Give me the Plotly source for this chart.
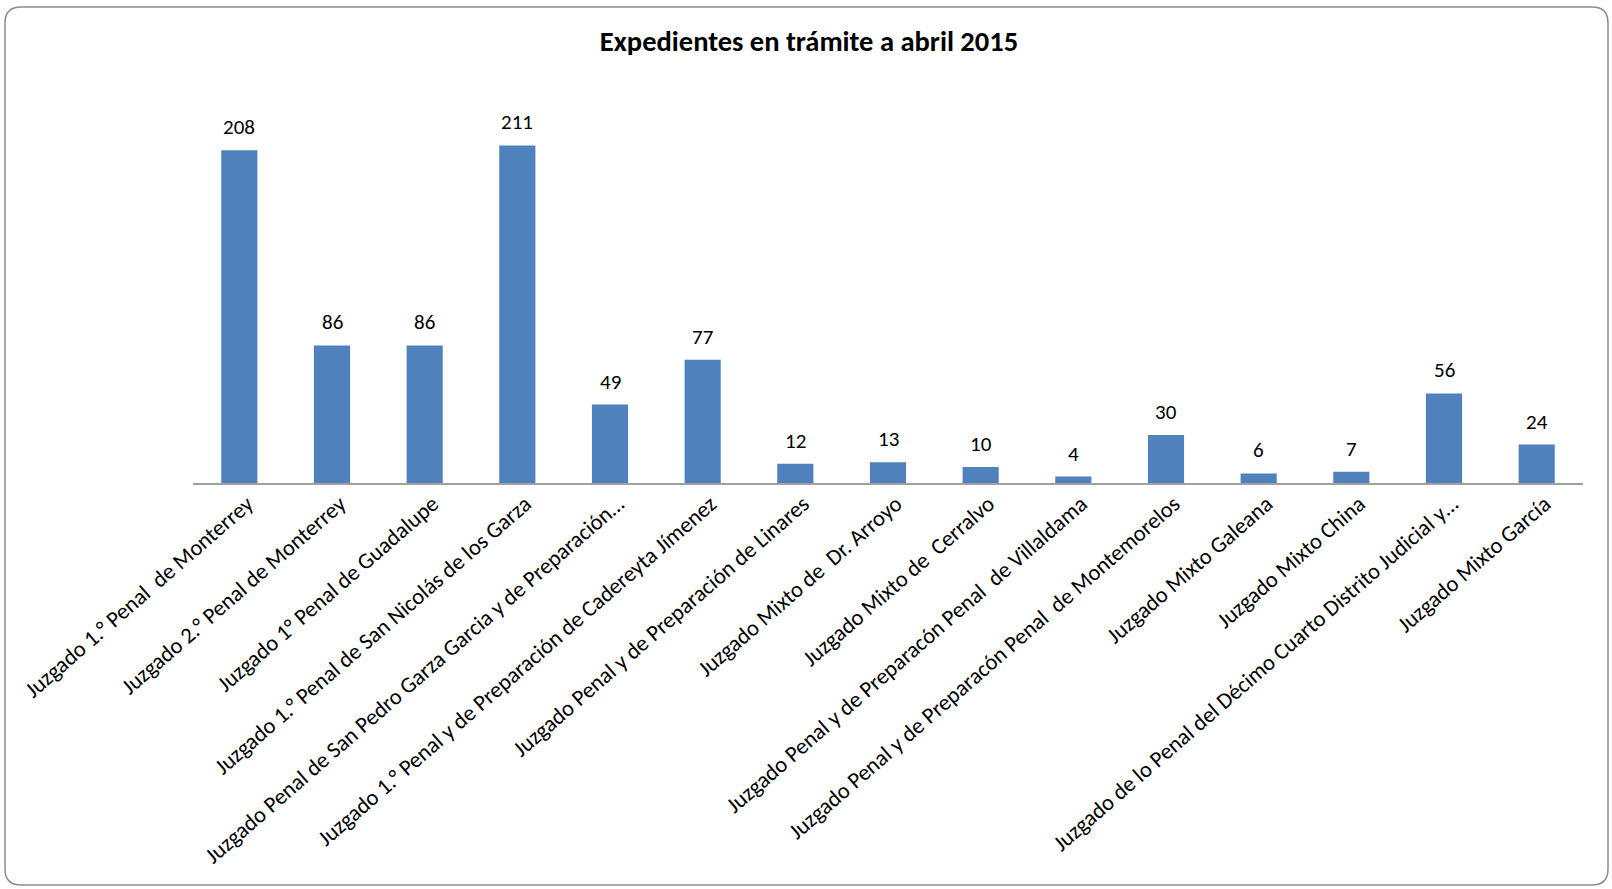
import plotly.graph_objects as go

categories = [
    "Juzgado 1.° Penal\u00a0 de Monterrey",
    "Juzgado 2.° Penal de Monterrey",
    "Juzgado 1° Penal de Guadalupe",
    "Juzgado 1.° Penal de San Nicolás de los Garza",
    "Juzgado Penal de San Pedro Garza Garcia y de Preparación…",
    "Juzgado 1.° Penal y de Preparación de Cadereyta Jímenez",
    "Juzgado Penal y de Preparación de Linares",
    "Juzgado Mixto de\u00a0 Dr. Arroyo",
    "Juzgado Mixto de\u00a0 Cerralvo",
    "Juzgado Penal y de Preparacón Penal\u00a0 de Villaldama",
    "Juzgado Penal y de Preparacón Penal\u00a0 de Montemorelos",
    "Juzgado Mixto Galeana",
    "Juzgado Mixto China",
    "Juzgado de lo Penal del Décimo Cuarto Distrito Judicial y…",
    "Juzgado Mixto García",
]
values = [208, 86, 86, 211, 49, 77, 12, 13, 10, 4, 30, 6, 7, 56, 24]
title_text = "Expedientes en trámite a abril 2015"

FONT = "Carlito, Calibri, Lato, 'Open Sans', sans-serif"
W, H = 1612, 889
L, R, T, B = 193, 29, 83, 406

fig = go.Figure()
fig.add_trace(go.Bar(
    x=categories, y=values,
    marker=dict(color="#4F81BD", line=dict(width=0)),
    width=0.39,
    hoverinfo="x+y",
))

for c, v in zip(categories, values):
    fig.add_annotation(x=c, y=v, text=str(v), showarrow=False,
                       yanchor="bottom", yshift=8,
                       font=dict(family=FONT, size=21, color="#000000"))

# rounded outer frame (paper coords relative to plot area)
pw, ph = W - L - R, H - T - B
def px(xp):
    return (xp - L) / pw
def py(yp):
    return (H - B - yp) / ph
x0, x1, y0, y1, r = 5, 1608, 7, 885, 16
path = (
    f"M {px(x0 + r)} {py(y0)} L {px(x1 - r)} {py(y0)} "
    f"Q {px(x1)} {py(y0)} {px(x1)} {py(y0 + r)} "
    f"L {px(x1)} {py(y1 - r)} "
    f"Q {px(x1)} {py(y1)} {px(x1 - r)} {py(y1)} "
    f"L {px(x0 + r)} {py(y1)} "
    f"Q {px(x0)} {py(y1)} {px(x0)} {py(y1 - r)} "
    f"L {px(x0)} {py(y0 + r)} "
    f"Q {px(x0)} {py(y0)} {px(x0 + r)} {py(y0)} Z"
)
fig.add_shape(type="path", path=path, xref="paper", yref="paper",
              line=dict(color="#8C8C8C", width=1.5), layer="below")

fig.update_layout(
    width=W, height=H,
    margin=dict(l=L, r=R, t=T, b=B, autoexpand=False),
    paper_bgcolor="white", plot_bgcolor="white",
    showlegend=False,
    title=dict(text=f"<b>{title_text}</b>", x=(809) / W, xanchor="center",
               y=1 - 41 / H, yanchor="middle",
               font=dict(family=FONT, size=28.5, color="#000000")),
    font=dict(family=FONT, size=18, color="#000000"),
    bargap=0.61,
)
fig.update_xaxes(
    type="category", tickangle=-41, showgrid=False, automargin=False,
    showline=True, linecolor="#A0A0A0", linewidth=2,
    ticks="", ticklabelstandoff=-3, ticklabelshift=8,
    tickfont=dict(family=FONT, size=22.5, color="#000000"),
)
fig.update_yaxes(visible=False, range=[0, 250], automargin=False)

fig.write_html("out.html", config={"displayModeBar": False},
               post_script="document.body.style.margin='0';document.body.style.overflow='hidden';")
